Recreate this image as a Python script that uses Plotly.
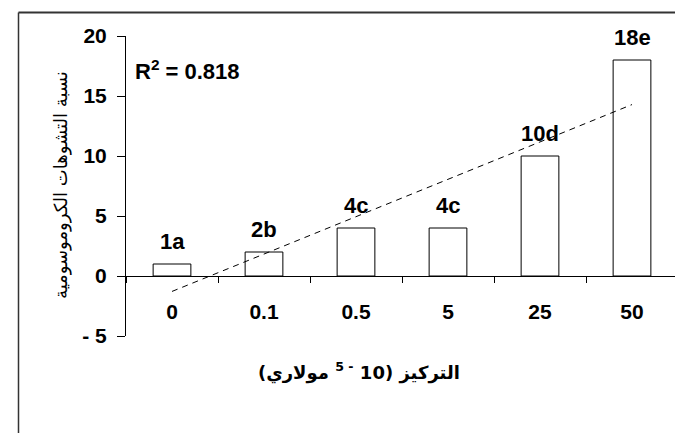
import numpy as np
import plotly.graph_objects as go

categories = ["0", "0.1", "0.5", "5", "25", "50"]
values = [1, 2, 4, 4, 10, 18]
bar_labels = ["1a", "2b", "4c", "4c", "10d", "18e"]
y_tickvals = [-5, 0, 5, 10, 15, 20]
y_ticktext = ["- 5", "0", "5", "10", "15", "20"]
r2_text = "R<sup>2</sup> = 0.818"
y_title = "نسبة التشوهات الكروموسومية"
x_title = "(مولاري\u200e <sup>5 -</sup> \u200e10) \u200eالتركيز"

W, H = 683, 433
L, R, T, B = 118, 13, 28, 105
pw, ph = W - L - R, H - T - B

def px_x(p):
    return (p - L) / pw

def px_y(p):
    return (H - B - p) / ph

idx = np.arange(1, len(values) + 1)
slope, intercept = np.polyfit(idx, values, 1)
trend = slope * idx + intercept
cat_pos = list(range(len(categories)))

BOLD = dict(family="Liberation Sans, Arial, sans-serif", color="black", weight="bold")

fig = go.Figure()
fig.add_bar(x=categories, y=values, width=0.41,
            marker=dict(color="white", line=dict(color="black", width=1)),
            showlegend=False, hoverinfo="skip")
fig.add_scatter(x=categories, y=trend, mode="lines",
                line=dict(color="black", width=1, dash="6px,5px"),
                showlegend=False, hoverinfo="skip")

for i, v, t in zip(cat_pos, values, bar_labels):
    fig.add_annotation(x=i, y=v, text=t, showarrow=False, yanchor="bottom",
                       yshift=8, font=dict(size=22, **BOLD))

fig.add_annotation(xref="paper", yref="paper", x=px_x(125), y=px_y(62),
                   xanchor="left", yanchor="middle", text=r2_text, showarrow=False,
                   font=dict(size=22, **BOLD))

fig.add_annotation(xref="paper", yref="paper", x=px_x(40), y=px_y(177),
                   text=y_title, textangle=-90, showarrow=False,
                   font=dict(size=18, family="DejaVu Sans, sans-serif", color="black"))

fig.add_annotation(xref="paper", yref="paper", x=px_x(351), y=px_y(378),
                   text=x_title, showarrow=False,
                   font=dict(size=18, family="DejaVu Sans, sans-serif", color="black", weight="bold"))

# outer frame (left and top edges visible)
fig.add_shape(type="line", xref="paper", yref="paper",
              x0=px_x(10.5), x1=px_x(10.5), y0=px_y(4.5), y1=px_y(445),
              line=dict(color="#333333", width=1.5))
fig.add_shape(type="line", xref="paper", yref="paper",
              x0=px_x(10.5), x1=px_x(700), y0=px_y(4.5), y1=px_y(4.5),
              line=dict(color="#333333", width=2))

fig.update_layout(
    width=W, height=H,
    margin=dict(l=L, r=R, t=T, b=B),
    paper_bgcolor="white", plot_bgcolor="white",
    xaxis=dict(type="category", range=[-0.5, 5.5], anchor="free", position=0.2,
               showline=True, linecolor="black", linewidth=1,
               ticks="outside", tickson="boundaries", ticklen=6, tickcolor="black",
               tickfont=dict(size=21, **BOLD), ticklabelstandoff=17,
               showgrid=False, zeroline=False),
    yaxis=dict(range=[-5, 20], tickvals=y_tickvals, ticktext=y_ticktext,
               showline=True, linecolor="black", linewidth=1,
               ticks="outside", ticklen=8, tickcolor="black",
               tickfont=dict(size=21, **BOLD), ticklabelstandoff=6,
               showgrid=False, zeroline=False),
    bargap=0.59,
)

fig.write_html("out.html")
